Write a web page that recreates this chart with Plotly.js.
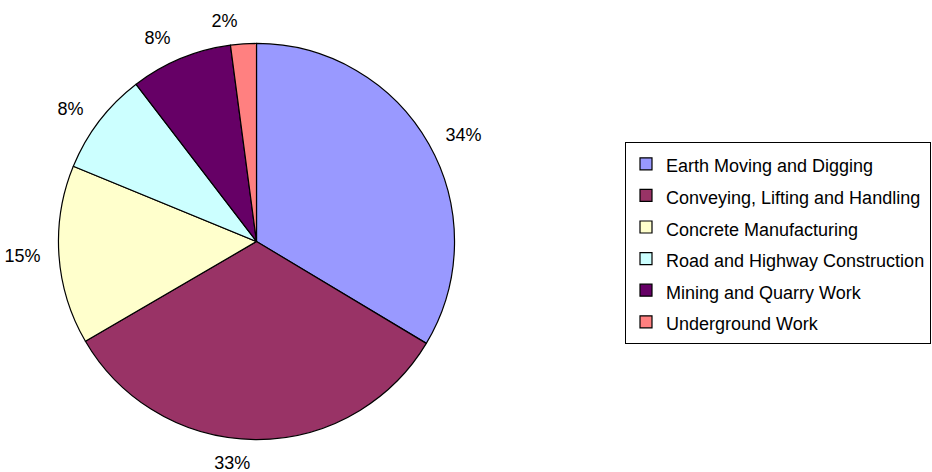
<!DOCTYPE html>
<html>
<head>
<meta charset="utf-8">
<script src="https://cdn.plot.ly/plotly-3.0.1.min.js"></script>
<style>html,body{margin:0;padding:0;background:#fff;}#chart{width:932px;height:472px;}</style>
</head>
<body>
<div id="chart"></div>
<script>
const categories = [
  "Earth Moving and Digging",
  "Conveying, Lifting and Handling",
  "Concrete Manufacturing",
  "Road and Highway Construction",
  "Mining and Quarry Work",
  "Underground Work"
];
const shares = [33.6, 33.0, 14.6, 8.4, 8.3, 2.1];
const sliceColors = ["#9999FF", "#993366", "#FFFFCC", "#CCFFFF", "#660066", "#FF8080"];

const FONT = "Arial, 'Liberation Sans', sans-serif";
const W = 932, H = 472;
const CX = 256.5, R = 198.5, RLAB = 212;
const M = { l: 0, r: 0, t: 29.5, b: 18.5 };
const plotH = H - M.t - M.b;

const legendLabels = categories.map(c => '<span style="font-size:18px">' + c + '</span>');

// the pie itself
const pie = {
  type: "pie",
  labels: legendLabels,
  values: shares,
  sort: false,
  direction: "clockwise",
  rotation: 0,
  marker: { colors: sliceColors, line: { color: "#000000", width: 1.2 } },
  textinfo: "none",
  domain: { x: [(CX - R) / W, (CX + R) / W], y: [(RLAB - R) / plotH, 1 - (RLAB - R) / plotH] },
  hoverinfo: "label+percent"
};

// transparent companion rings that only carry the percentage labels a little farther out
// (split in two so the smallest slice's label is laid out on its own, without a leader line)
function labelRing(showIdx) {
  return {
    type: "pie",
    labels: legendLabels,
    values: shares,
    sort: false,
    direction: "clockwise",
    rotation: 0,
    showlegend: false,
    marker: { colors: sliceColors.map(() => "rgba(0,0,0,0)"), line: { width: 0 } },
    texttemplate: "%{percent:.0%}",
    textposition: shares.map((v, i) => showIdx(i) ? "outside" : "none"),
    outsidetextfont: { family: FONT, size: 18, color: "#000000" },
    domain: { x: [(CX - RLAB) / W, (CX + RLAB) / W], y: [0, 1] },
    hoverinfo: "skip"
  };
}
const ringMain = labelRing(i => i < shares.length - 1);
const ringSmall = labelRing(i => i === shares.length - 1);

const layout = {
  width: W,
  height: H,
  margin: M,
  paper_bgcolor: "#ffffff",
  plot_bgcolor: "#ffffff",
  font: { family: FONT, color: "#000000" },
  showlegend: true,
  legend: {
    x: 931 / W,
    xanchor: "right",
    y: (H - M.b - 243) / plotH,
    yanchor: "middle",
    bordercolor: "#000000",
    borderwidth: 1,
    bgcolor: "#ffffff",
    font: { family: FONT, size: 22, color: "#000000" },
    traceorder: "normal"
  }
};

Plotly.newPlot("chart", [pie, ringMain, ringSmall], layout, { staticPlot: true, displayModeBar: false });
</script>
</body>
</html>
